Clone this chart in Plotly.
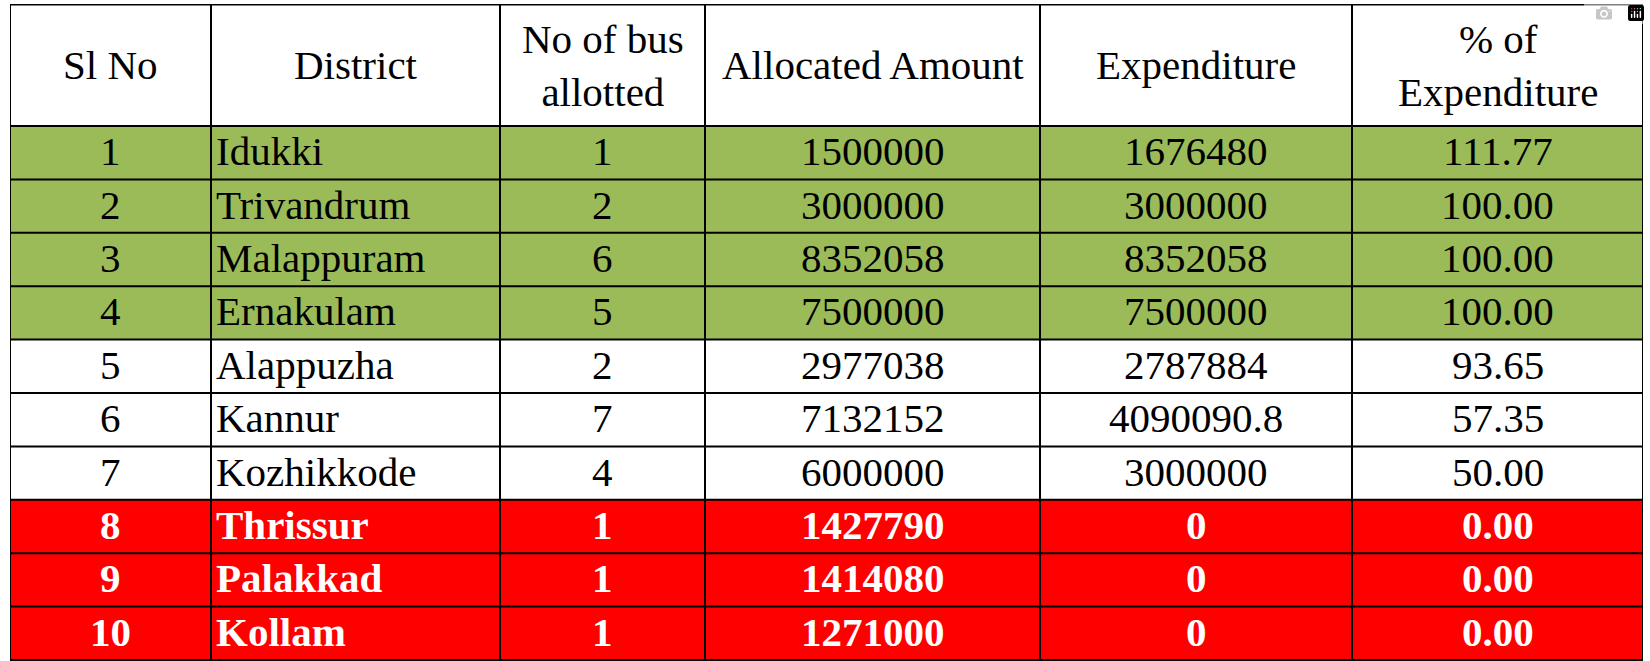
import plotly.graph_objects as go

headers = ["Sl No", "District", "No of bus<br>allotted", "Allocated Amount", "Expenditure", "% of<br>Expenditure"]
sl_no = [1, 2, 3, 4, 5, 6, 7, 8, 9, 10]
districts = ["Idukki", "Trivandrum", "Malappuram", "Ernakulam", "Alappuzha", "Kannur",
             "Kozhikkode", "Thrissur", "Palakkad", "Kollam"]
buses = [1, 2, 6, 5, 2, 7, 4, 1, 1, 1]
allocated = ["1500000", "3000000", "8352058", "7500000", "2977038", "7132152",
             "6000000", "1427790", "1414080", "1271000"]
expenditure = ["1676480", "3000000", "8352058", "7500000", "2787884", "4090090.8",
               "3000000", "0", "0", "0"]
pct = ["111.77", "100.00", "100.00", "100.00", "93.65", "57.35", "50.00", "0.00", "0.00", "0.00"]
status = ["full", "full", "full", "full", "part", "part", "part", "none", "none", "none"]

fill_map = {"full": "#9BBB59", "part": "#FFFFFF", "none": "#FF0000"}
font_map = {"full": "#000000", "part": "#000000", "none": "#FFFFFF"}

cols = [sl_no, districts, buses, allocated, expenditure, pct]
col_align = ["center", "left", "center", "center", "center", "center"]

# layout geometry (pixel-like units)
col_widths = [201, 289, 205, 335, 312, 291]
header_h = 122
row_h = 53.4
FONT = "Liberation Serif"
FS = 41

x_edges = [0]
for w in col_widths:
    x_edges.append(x_edges[-1] + w)
y_edges = [0, header_h]
for _ in sl_no:
    y_edges.append(y_edges[-1] + row_h)

total_w = x_edges[-1]
total_h = y_edges[-1]

fig = go.Figure()
shapes = []
annotations = []

# row fills
for r, s in enumerate(status):
    shapes.append(dict(type="rect", xref="x", yref="y",
                       x0=0, x1=total_w, y0=y_edges[r + 1], y1=y_edges[r + 2],
                       fillcolor=fill_map[s], line=dict(width=0), layer="below"))

# grid lines
for xe in x_edges:
    shapes.append(dict(type="line", xref="x", yref="y", x0=xe, x1=xe, y0=0, y1=total_h,
                       line=dict(color="#000000", width=2)))
for ye in y_edges:
    shapes.append(dict(type="line", xref="x", yref="y", x0=0, x1=total_w, y0=ye, y1=ye,
                       line=dict(color="#000000", width=2)))
shapes.append(dict(type="line", xref="x", yref="y", x0=0, x1=total_w, y0=0, y1=0,
                   line=dict(color="#000000", width=3)))

# header text
for c, h in enumerate(headers):
    annotations.append(dict(x=(x_edges[c] + x_edges[c + 1]) / 2, y=header_h / 2,
                            xref="x", yref="y", text=h, showarrow=False,
                            xanchor="center", yanchor="middle",
                            font=dict(family=FONT, size=FS, color="#000000")))

# cell text
for c, col in enumerate(cols):
    for r, (v, s) in enumerate(zip(col, status)):
        t = str(v)
        if s == "none":
            t = "<b>" + t + "</b>"
        yc = (y_edges[r + 1] + y_edges[r + 2]) / 2 - 1.5
        if col_align[c] == "left":
            x, xa = x_edges[c] + 3, "left"
        else:
            x, xa = (x_edges[c] + x_edges[c + 1]) / 2, "center"
        annotations.append(dict(x=x, y=yc, xref="x", yref="y", text=t, showarrow=False,
                                xanchor=xa, yanchor="middle",
                                font=dict(family=FONT, size=FS, color=font_map[s])))

fig.update_layout(
    width=1650, height=661,
    margin=dict(l=10, r=7, t=4, b=0),
    paper_bgcolor="#FFFFFF", plot_bgcolor="#FFFFFF",
    font=dict(family=FONT),
    xaxis=dict(range=[0, total_w], visible=False, fixedrange=True),
    yaxis=dict(range=[661 - 4, 0], visible=False, fixedrange=True),
    shapes=shapes, annotations=annotations, showlegend=False,
)

fig.write_html("out.html", post_script="document.body.style.margin='0';")
